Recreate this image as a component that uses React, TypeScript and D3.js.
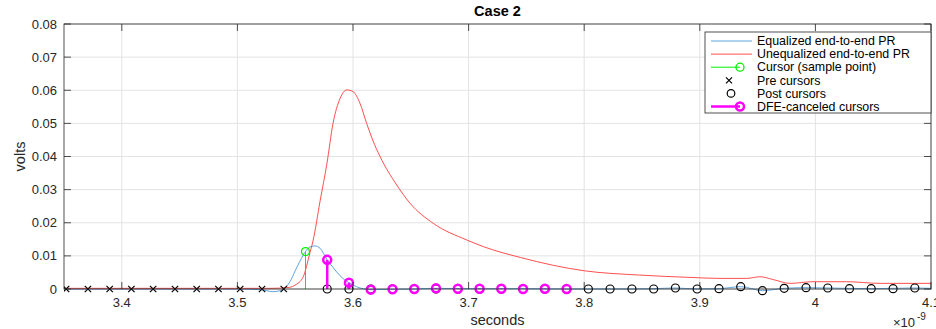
import * as d3 from "d3"

// time in ns, values in volts
const eqT = [3.35, 3.5, 3.52, 3.531, 3.537, 3.5401, 3.5455, 3.55, 3.5541, 3.5589, 3.5628, 3.567, 3.5715, 3.5777, 3.583, 3.5888, 3.5965, 3.603, 3.6154, 3.6342, 3.653, 3.6718, 3.7, 3.75, 3.7848, 3.8036, 3.8413, 3.8601, 3.8789, 3.8977, 3.9166, 3.9354, 3.9542, 3.973, 3.9919, 4.0107, 4.0483, 4.086, 4.1]
const eqV = [0, 0, -0.0002, -0.0008, -0.0005, 0, 0.0022, 0.0055, 0.0084, 0.0113, 0.0127, 0.013, 0.0123, 0.0088, 0.0064, 0.004, 0.0019, 0.0007, -0.0002, -0.0001, 0, 0.0002, 0.0001, 0.0001, 0, 0, 0, 0.0001, 0.0003, 0, 0.0001, 0.0007, -0.0005, 0.0002, 0.0004, 0.0003, 0.0001, 0.0003, 0.0002]

const uneqT = [3.35, 3.53, 3.545, 3.55, 3.5567, 3.5628, 3.5654, 3.5715, 3.5775, 3.5827, 3.5888, 3.5946, 3.6, 3.606, 3.6118, 3.617, 3.6234, 3.6378, 3.6493, 3.6695, 3.6984, 3.7127, 3.745, 3.8, 3.848, 3.8915, 3.9175, 3.9406, 3.952, 3.963, 3.978, 3.998, 4.027, 4.056, 4.1]
const uneqV = [0.0002, 0.0002, 0.0005, 0.0012, 0.0035, 0.011, 0.0145, 0.0265, 0.038, 0.05, 0.0575, 0.0601, 0.0596, 0.0561, 0.05, 0.045, 0.04, 0.0314, 0.0259, 0.0198, 0.0148, 0.0128, 0.0095, 0.0055, 0.0042, 0.0035, 0.0032, 0.0032, 0.0037, 0.0029, 0.0017, 0.0022, 0.0022, 0.0017, 0.0017]

const cursorT = 3.5589
const cursorV = 0.0113

const preT = [3.3518, 3.3707, 3.3895, 3.4083, 3.4271, 3.446, 3.4648, 3.4836, 3.5024, 3.5213, 3.5401]
const preV = [0, 0, 0, 0, 0, 0, 0, 0, 0, 0, 0]

const postT = [3.5777, 3.5965, 3.6154, 3.6342, 3.653, 3.6718, 3.6907, 3.7095, 3.7283, 3.7471, 3.766, 3.7848, 3.8036, 3.8224, 3.8413, 3.8601, 3.8789, 3.8977, 3.9166, 3.9354, 3.9542, 3.973, 3.9919, 4.0107, 4.0295, 4.0483, 4.0672, 4.086]
const postV = [0, 0, 0, 0, 0, 0, 0, 0, 0, 0, 0, 0, 0, 0, 0, 0, 0.0003, 0, 0.0001, 0.0007, -0.0005, 0.0002, 0.0004, 0.0003, 0.0001, 0.0001, 0.0001, 0.0003]

const dfeT = [3.5777, 3.5965, 3.6154, 3.6342, 3.653, 3.6718, 3.6907, 3.7095, 3.7283, 3.7471, 3.766, 3.7848]
const dfeV = [0.0088, 0.0019, -0.0002, -0.0001, 0, 0.0002, 0.0001, 0.0001, 0.0001, 0, 0.0001, 0]

const xTicks = [3.4, 3.5, 3.6, 3.7, 3.8, 3.9, 4, 4.1]
const yTicks = [0, 0.01, 0.02, 0.03, 0.04, 0.05, 0.06, 0.07, 0.08]

const legendLabels = [
  "Equalized end-to-end PR",
  "Unequalized end-to-end PR",
  "Cursor (sample point)",
  "Pre cursors",
  "Post cursors",
  "DFE-canceled cursors",
]

const W = 936
const H = 329
const m = { left: 64, right: 931, top: 24, bottom: 289 }
const FONT = "'Liberation Sans', Arial, Helvetica, sans-serif"
const AX = "#262626"
const BLUE = "#4d9ad8"
const RED = "#ff3b3b"
const GREEN = "#00f000"
const MAG = "#ff00ff"

export default function App() {
  const x = d3.scaleLinear().domain([3.35, 4.1]).range([m.left, m.right])
  const y = d3.scaleLinear().domain([0, 0.08]).range([m.bottom, m.top])

  const line = d3
    .line<[number, number]>()
    .x((d) => x(d[0]))
    .y((d) => y(d[1]))
    .curve(d3.curveMonotoneX)

  const eqPath = line(eqT.map((t, i) => [t, eqV[i]]) as [number, number][]) || ""
  const uneqPath = line(uneqT.map((t, i) => [t, uneqV[i]]) as [number, number][]) || ""

  const tick = 7
  const lx0 = 711
  const ly0 = 41
  const lstep = 13.1

  return (
    <svg width={W} height={H} style={{ position: "absolute", left: 0, top: 0, background: "#fff" }} fontFamily={FONT}>
      <rect x={0} y={0} width={W} height={H} fill="#fff" />
      {/* grid */}
      {xTicks.map((t) => (
        <line key={"gx" + t} x1={x(t)} x2={x(t)} y1={m.top} y2={m.bottom} stroke="#e3e3e3" strokeWidth={1} />
      ))}
      {yTicks.map((v) => (
        <line key={"gy" + v} x1={m.left} x2={m.right} y1={y(v)} y2={y(v)} stroke="#e3e3e3" strokeWidth={1} />
      ))}

      <defs>
        <clipPath id="plotclip">
          <rect x={m.left} y={m.top} width={m.right - m.left} height={m.bottom - m.top + 10} />
        </clipPath>
      </defs>

      <g clipPath="url(#plotclip)">
        <path d={eqPath} fill="none" stroke={BLUE} strokeWidth={0.9} />
        <path d={uneqPath} fill="none" stroke={RED} strokeWidth={0.9} />

        {/* cursor stem */}
        <line x1={x(cursorT)} x2={x(cursorT)} y1={y(0)} y2={y(cursorV)} stroke={GREEN} strokeWidth={1} />
        <circle cx={x(cursorT)} cy={y(cursorV)} r={4} fill="none" stroke={GREEN} strokeWidth={1.3} />

        {/* pre cursors */}
        {preT.map((t, i) => (
          <path
            key={"pre" + i}
            d={`M${x(t) - 3.2},${y(preV[i]) - 3.2}L${x(t) + 3.2},${y(preV[i]) + 3.2}M${x(t) - 3.2},${y(preV[i]) + 3.2}L${x(t) + 3.2},${y(preV[i]) - 3.2}`}
            stroke="#000"
            strokeWidth={1.2}
          />
        ))}

        {/* post cursors */}
        {postT.map((t, i) => (
          <circle key={"post" + i} cx={x(t)} cy={y(postV[i])} r={4} fill="none" stroke="#000" strokeWidth={1.2} />
        ))}

        {/* DFE-canceled */}
        {dfeT.map((t, i) => (
          <g key={"dfe" + i}>
            <line x1={x(t)} x2={x(t)} y1={y(0)} y2={y(dfeV[i])} stroke={MAG} strokeWidth={2.5} />
            <circle cx={x(t)} cy={y(dfeV[i])} r={4} fill="none" stroke={MAG} strokeWidth={2.5} />
          </g>
        ))}
      </g>

      {/* axes box */}
      <rect x={m.left} y={m.top} width={m.right - m.left} height={m.bottom - m.top} fill="none" stroke={AX} strokeWidth={0.8} />
      {xTicks.map((t) => (
        <g key={"xt" + t}>
          <line x1={x(t)} x2={x(t)} y1={m.bottom} y2={m.bottom - tick} stroke={AX} strokeWidth={0.8} />
          <line x1={x(t)} x2={x(t)} y1={m.top} y2={m.top + tick} stroke={AX} strokeWidth={0.8} />
          <text x={x(t)} y={307} textAnchor="middle" fontSize={13} fill={AX}>
            {String(t)}
          </text>
        </g>
      ))}
      {yTicks.map((v) => (
        <g key={"yt" + v}>
          <line x1={m.left} x2={m.left + tick} y1={y(v)} y2={y(v)} stroke={AX} strokeWidth={0.8} />
          <line x1={m.right} x2={m.right - tick} y1={y(v)} y2={y(v)} stroke={AX} strokeWidth={0.8} />
          <text x={57} y={y(v) + 4.5} textAnchor="end" fontSize={13} fill={AX}>
            {v === 0 ? "0" : v.toFixed(2)}
          </text>
        </g>
      ))}

      {/* labels */}
      <text x={(m.left + m.right) / 2} y={16} textAnchor="middle" fontSize={14.5} fontWeight="bold" fill="#000">
        Case 2
      </text>
      <text x={(m.left + m.right) / 2} y={325} textAnchor="middle" fontSize={14.5} fill={AX}>
        seconds
      </text>
      <text transform={`translate(25,${(m.top + m.bottom) / 2}) rotate(-90)`} textAnchor="middle" fontSize={14.5} fill={AX}>
        volts
      </text>
      <text x={893} y={327} fontSize={13} fill={AX}>
        ×10
      </text>
      <text x={917} y={320} fontSize={10} fill={AX}>
        -9
      </text>

      {/* legend */}
      <rect x={705} y={32} width={226} height={81} fill="#fff" stroke={AX} strokeWidth={0.8} />
      {legendLabels.map((lab, i) => {
        const ly = ly0 + i * lstep
        let icon = null
        if (i === 0) icon = <line x1={lx0} x2={752} y1={ly} y2={ly} stroke={BLUE} strokeWidth={0.9} />
        if (i === 1) icon = <line x1={lx0} x2={752} y1={ly} y2={ly} stroke={RED} strokeWidth={0.9} />
        if (i === 2)
          icon = (
            <g>
              <line x1={lx0} x2={740} y1={ly} y2={ly} stroke={GREEN} strokeWidth={1} />
              <circle cx={740} cy={ly} r={4} fill="none" stroke={GREEN} strokeWidth={1.3} />
            </g>
          )
        if (i === 3)
          icon = (
            <path
              d={`M${729 - 3},${ly - 3}L${729 + 3},${ly + 3}M${729 - 3},${ly + 3}L${729 + 3},${ly - 3}`}
              stroke="#000"
              strokeWidth={1.2}
            />
          )
        if (i === 4) icon = <circle cx={731} cy={ly} r={3.8} fill="none" stroke="#000" strokeWidth={1.2} />
        if (i === 5)
          icon = (
            <g>
              <line x1={lx0} x2={740} y1={ly} y2={ly} stroke={MAG} strokeWidth={2.5} />
              <circle cx={740} cy={ly} r={4} fill="none" stroke={MAG} strokeWidth={2.5} />
            </g>
          )
        return (
          <g key={"lg" + i}>
            {icon}
            <text x={757} y={ly + 4.2} fontSize={12.4} fill="#000">
              {lab}
            </text>
          </g>
        )
      })}
    </svg>
  )
}
